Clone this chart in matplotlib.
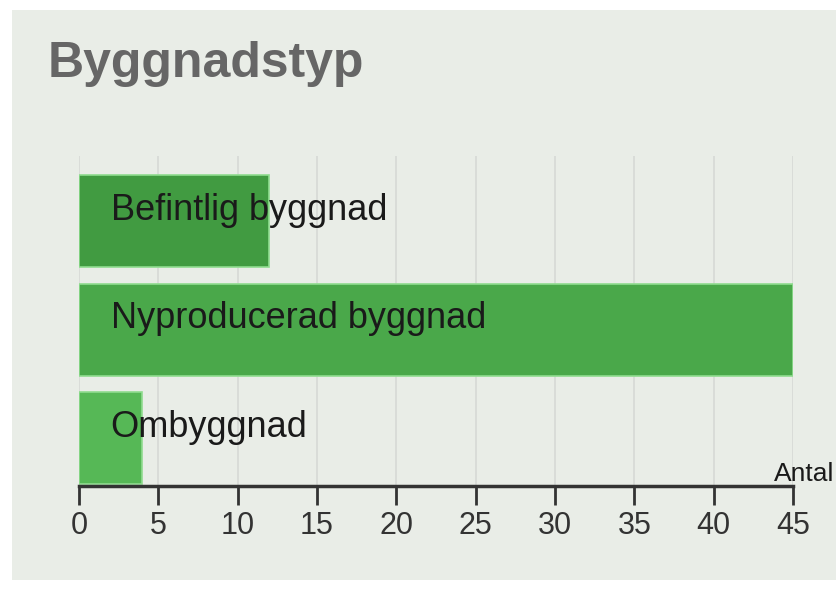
import matplotlib.pyplot as plt
from matplotlib.patches import Rectangle

categories = ["Befintlig byggnad", "Nyproducerad byggnad", "Ombyggnad"]
values = [12, 45, 4]
colors = ["#419b41", "#4aa84a", "#56b856"]
ticks = [0, 5, 10, 15, 20, 25, 30, 35, 40, 45]

plt.rcParams["font.family"] = ["Liberation Sans", "DejaVu Sans"]

fig = plt.figure(figsize=(8.37, 6.04), dpi=100)
fig.patch.set_facecolor("white")
fig.patches.append(Rectangle((12 / 837, 24 / 604), 1 - 12 / 837, 1 - 34 / 604,
                             transform=fig.transFigure, facecolor="#e9ede7",
                             edgecolor="none", zorder=-10))

fig.text(48 / 837, 1 - 64 / 604, "Byggnadstyp", fontsize=36, fontweight="bold",
         color="#666666", va="center", ha="left")

ax = fig.add_axes([79 / 837, 118 / 604, 714 / 837, 330 / 604])
ax.set_facecolor("none")

pos = [2, 1, 0]
ax.barh(pos, values, height=0.85, color=colors, edgecolor="#8fdc8f",
        linewidth=1.2, zorder=2)
for p, name in zip(pos, categories):
    ax.text(2.0, p + 0.1, name, fontsize=26, color="#1a1a1a", va="center",
            ha="left", zorder=3)

ax.set_xlim(0, 45)
ax.set_ylim(-0.44, 2.6)
ax.set_xticks(ticks)
ax.set_yticks([])
ax.xaxis.grid(True, color="#d6d9d5", linewidth=1.2, zorder=0)
ax.set_axisbelow(True)
for s in ["top", "right", "left"]:
    ax.spines[s].set_visible(False)
ax.spines["bottom"].set_color("#333333")
ax.spines["bottom"].set_linewidth(2.5)
ax.tick_params(axis="x", length=14, width=2, color="#333333", labelsize=22,
               labelcolor="#333333", pad=4)
for lab in ax.get_xticklabels():
    lab.set_family(["Liberation Sans Narrow", "Liberation Sans"])

fig.text(834 / 837, 1 - 474 / 604, "Antal", fontsize=19, color="#1a1a1a",
         ha="right", va="center")

fig.savefig("out.png", dpi=100, facecolor=fig.get_facecolor())
